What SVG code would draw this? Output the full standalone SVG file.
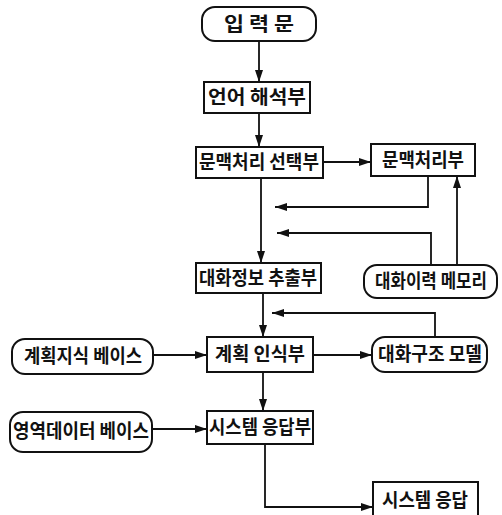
<svg xmlns="http://www.w3.org/2000/svg" width="502" height="515" viewBox="0 0 502 515">
<style>
.box{fill:#fff;stroke:#111;stroke-width:2}
.ln{fill:none;stroke:#111;stroke-width:1.8}
.t{font-family:"Noto Sans CJK KR","Noto Sans",sans-serif;font-size:19px;font-weight:bold;fill:#111;text-anchor:middle}
</style>
<defs>
<marker id="ah" viewBox="0 0 12 8" refX="12" refY="4" markerWidth="12" markerHeight="8" markerUnits="userSpaceOnUse" orient="auto">
<path d="M0,0 L12,4 L0,8 Z" fill="#111"/>
</marker>
</defs>
<rect width="502" height="515" fill="#fff"/>
<g id="connectors">
<path class="ln" d="M259,41 V82" marker-end="url(#ah)"/>
<path class="ln" d="M259,113 V147" marker-end="url(#ah)"/>
<path class="ln" d="M323,162 H371" marker-end="url(#ah)"/>
<path class="ln" d="M261,178 V263" marker-end="url(#ah)"/>
<path class="ln" d="M428,176 V207 H275" marker-end="url(#ah)"/>
<path class="ln" d="M431,265 V233 H277" marker-end="url(#ah)"/>
<path class="ln" d="M457,265 V176" marker-end="url(#ah)"/>
<path class="ln" d="M263,293 V337" marker-end="url(#ah)"/>
<path class="ln" d="M435,337 V313 H272" marker-end="url(#ah)"/>
<path class="ln" d="M153,355 H207" marker-end="url(#ah)"/>
<path class="ln" d="M313,355 H372" marker-end="url(#ah)"/>
<path class="ln" d="M263,372 V411" marker-end="url(#ah)"/>
<path class="ln" d="M152,429 H207" marker-end="url(#ah)"/>
<path class="ln" d="M265,444 V507 H373" marker-end="url(#ah)"/>
</g>
<g id="input"><rect class="box" x="202" y="7" width="114" height="34" rx="13"/><text class="t" x="259" y="31" textLength="70" lengthAdjust="spacingAndGlyphs">입 력 문</text></g>
<g id="parser"><rect class="box" x="204" y="82" width="106" height="31"/><text class="t" x="257" y="104" textLength="98" lengthAdjust="spacingAndGlyphs">언어 해석부</text></g>
<g id="ctx-select"><rect class="box" x="196" y="147" width="127" height="31"/><text class="t" x="259" y="169" textLength="120" lengthAdjust="spacingAndGlyphs">문맥처리 선택부</text></g>
<g id="ctx-proc"><rect class="box" x="371" y="144" width="104" height="32"/><text class="t" x="423" y="167" textLength="82" lengthAdjust="spacingAndGlyphs">문맥처리부</text></g>
<g id="dialog-extract"><rect class="box" x="196" y="263" width="125" height="30"/><text class="t" x="258" y="285" textLength="118" lengthAdjust="spacingAndGlyphs">대화정보 추출부</text></g>
<g id="dialog-memory"><rect class="box" x="364" y="265" width="133" height="33" rx="13"/><text class="t" x="431" y="288" textLength="112" lengthAdjust="spacingAndGlyphs">대화이력 메모리</text></g>
<g id="plan-recog"><rect class="box" x="207" y="337" width="106" height="35"/><text class="t" x="260" y="361" textLength="90" lengthAdjust="spacingAndGlyphs">계획 인식부</text></g>
<g id="plan-kb"><rect class="box" x="12" y="339" width="141" height="35" rx="13"/><text class="t" x="83" y="363" textLength="118" lengthAdjust="spacingAndGlyphs">계획지식 베이스</text></g>
<g id="dialog-model"><rect class="box" x="372" y="337" width="115" height="35" rx="13"/><text class="t" x="430" y="361" textLength="104" lengthAdjust="spacingAndGlyphs">대화구조 모델</text></g>
<g id="sys-resp-unit"><rect class="box" x="207" y="411" width="106" height="33"/><text class="t" x="260" y="434" textLength="102" lengthAdjust="spacingAndGlyphs">시스템 응답부</text></g>
<g id="domain-db"><rect class="box" x="10" y="412" width="142" height="40" rx="13"/><text class="t" x="81" y="438" textLength="136" lengthAdjust="spacingAndGlyphs">영역데이터 베이스</text></g>
<g id="sys-resp"><rect class="box" x="373" y="482" width="105" height="45"/><text class="t" x="425" y="507" textLength="86" lengthAdjust="spacingAndGlyphs">시스템 응답</text></g>
</svg>
